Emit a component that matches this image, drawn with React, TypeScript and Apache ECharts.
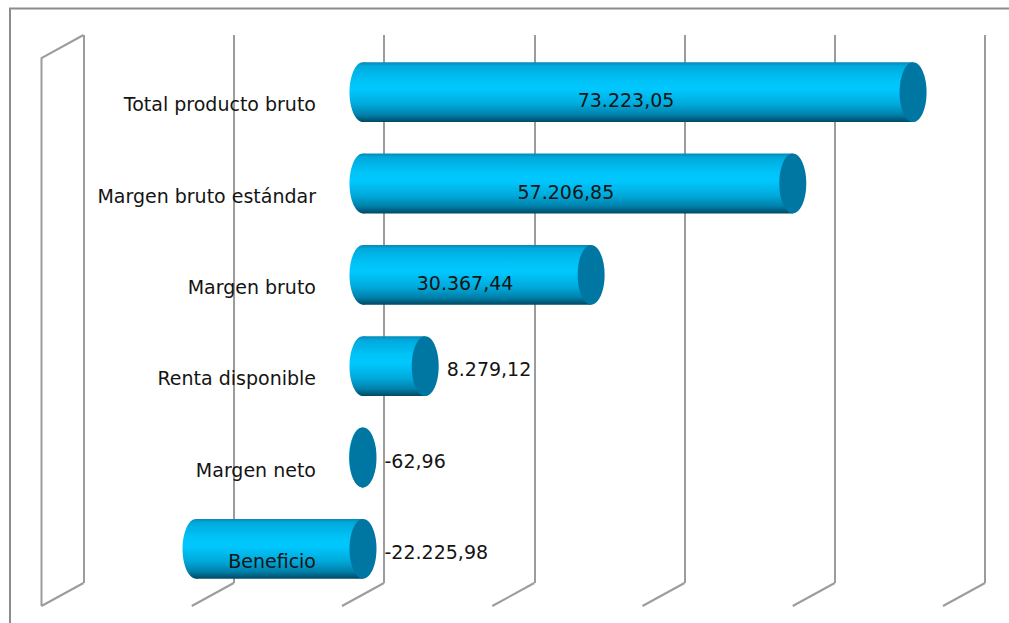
import React, { useEffect, useRef } from "react";
import * as echarts from "echarts";

const categories = [
  "Total producto bruto",
  "Margen bruto estándar",
  "Margen bruto",
  "Renta disponible",
  "Margen neto",
  "Beneficio",
];
const values = [73223.05, 57206.85, 30367.44, 8279.12, -62.96, -22225.98];
const valueLabels = ["73.223,05", "57.206,85", "30.367,44", "8.279,12", "-62,96", "-22.225,98"];
const axisTicks = [-40000, -20000, 0, 20000, 40000, 60000, 80000];
const AXIS_MIN = -40000;
const AXIS_MAX = 80000;
const AXIS_STEP = 20000;

const FONT = "DejaVu Sans";
const DEPTH_X = -42;
const DEPTH_Y = 23;

export default function App() {
  const ref = useRef<HTMLDivElement>(null);
  useEffect(() => {
    if (!ref.current) return;
    const chart = echarts.init(ref.current, undefined, { renderer: "svg" });
    const bodyGrad = new echarts.graphic.LinearGradient(0, 0, 0, 1, [
      { offset: 0, color: "#0a86b4" },
      { offset: 0.06, color: "#00a9dc" },
      { offset: 0.3, color: "#00c2f6" },
      { offset: 0.45, color: "#00c8ff" },
      { offset: 0.7, color: "#00aadb" },
      { offset: 0.88, color: "#0080aa" },
      { offset: 1, color: "#004862" },
    ]);
    const option: any = {
      animation: false,
      backgroundColor: "#ffffff",
      graphic: [
        {
          type: "rect",
          shape: { x: 10, y: 8.5, width: 1020, height: 640 },
          style: { fill: "none", stroke: "#8c8c8c", lineWidth: 2 },
          silent: true,
        },
      ],
      grid: [
        { left: 83.5, right: 24, top: 35, bottom: 40 },
        { left: 62.5, right: 45, top: 46.5, bottom: 28.5 },
        { left: 316, right: 500, top: 58.5, bottom: 16.5 },
      ],
      xAxis: [
        {
          gridIndex: 0,
          type: "value",
          min: AXIS_MIN,
          max: AXIS_MAX,
          interval: AXIS_STEP,
          axisLine: { show: false },
          axisTick: { show: false },
          axisLabel: { show: false },
          splitLine: { show: true, showMinLine: true, showMaxLine: true, lineStyle: { color: "#9c9c9c", width: 2 } },
        },
        {
          gridIndex: 1,
          type: "value",
          min: AXIS_MIN,
          max: AXIS_MAX,
          interval: AXIS_STEP,
          show: false,
        },
        { gridIndex: 2, type: "value", show: false },
      ],
      yAxis: [
        { gridIndex: 0, type: "value", min: 0, max: 1, show: false },
        {
          gridIndex: 1,
          type: "category",
          inverse: true,
          data: categories,
          show: false,
        },
        {
          gridIndex: 2,
          type: "category",
          inverse: true,
          data: categories,
          z: 10,
          axisLine: { show: false },
          axisTick: { show: false },
          splitLine: { show: false },
          axisLabel: {
            margin: 0,
            fontFamily: FONT,
            fontSize: 19,
            color: "#141414",
          },
        },
      ],
      series: [
        {
          type: "custom",
          xAxisIndex: 0,
          yAxisIndex: 0,
          silent: true,
          z: 1,
          data: axisTicks.map((t) => [t]),
          encode: { x: 0 },
          renderItem: (params: any, api: any) => {
            const v = api.value(0);
            const bot = api.coord([v, 0]);
            const top = api.coord([v, 1]);
            const style = { stroke: "#9c9c9c", lineWidth: 2, fill: "none" };
            const children: any[] = [
              {
                type: "line",
                shape: { x1: bot[0], y1: bot[1], x2: bot[0] + DEPTH_X, y2: bot[1] + DEPTH_Y },
                style,
              },
            ];
            if (v === AXIS_MIN) {
              children.push({
                type: "polyline",
                shape: {
                  points: [
                    [top[0], top[1]],
                    [top[0] + DEPTH_X, top[1] + DEPTH_Y],
                    [bot[0] + DEPTH_X, bot[1] + DEPTH_Y],
                  ],
                },
                style,
              });
            }
            return { type: "group", children };
          },
        },
        {
          type: "custom",
          xAxisIndex: 1,
          yAxisIndex: 1,
          z: 3,
          data: values.map((v, i) => [v, i]),
          encode: { x: 0, y: 1 },
          renderItem: (params: any, api: any) => {
            const v = api.value(0);
            const c = api.value(1);
            const p0 = api.coord([0, c]);
            const p1 = api.coord([v, c]);
            const band = api.size([0, 1])[1];
            const h = band * 0.655;
            const ry = h / 2;
            const rx = 13.5;
            const xl = Math.min(p0[0], p1[0]);
            const xr = Math.max(p0[0], p1[0]);
            const cy = p0[1];
            const label = valueLabels[params.dataIndex];
            const inside = v > 10000;
            return {
              type: "group",
              children: [
                {
                  type: "ellipse",
                  shape: { cx: xl, cy, rx, ry },
                  style: { fill: bodyGrad },
                },
                {
                  type: "rect",
                  shape: { x: xl, y: cy - ry, width: xr - xl, height: h },
                  style: { fill: bodyGrad },
                },
                {
                  type: "ellipse",
                  shape: { cx: xr, cy, rx, ry },
                  style: { fill: "#0077a2" },
                },
                {
                  type: "text",
                  style: {
                    text: label,
                    x: inside ? (xl + xr) / 2 - 12 : xr + rx + 8,
                    y: inside ? cy + 8 : cy + 3,
                    align: inside ? "center" : "left",
                    verticalAlign: "middle",
                    fontFamily: FONT,
                    fontSize: 19,
                    fill: "#141414",
                  },
                },
              ],
            };
          },
        },
      ],
    };
    chart.setOption(option);
    return () => chart.dispose();
  }, []);
  return (
    <div
      ref={ref}
      style={{ position: "fixed", left: 0, top: 0, width: 1009, height: 623 }}
    />
  );
}
